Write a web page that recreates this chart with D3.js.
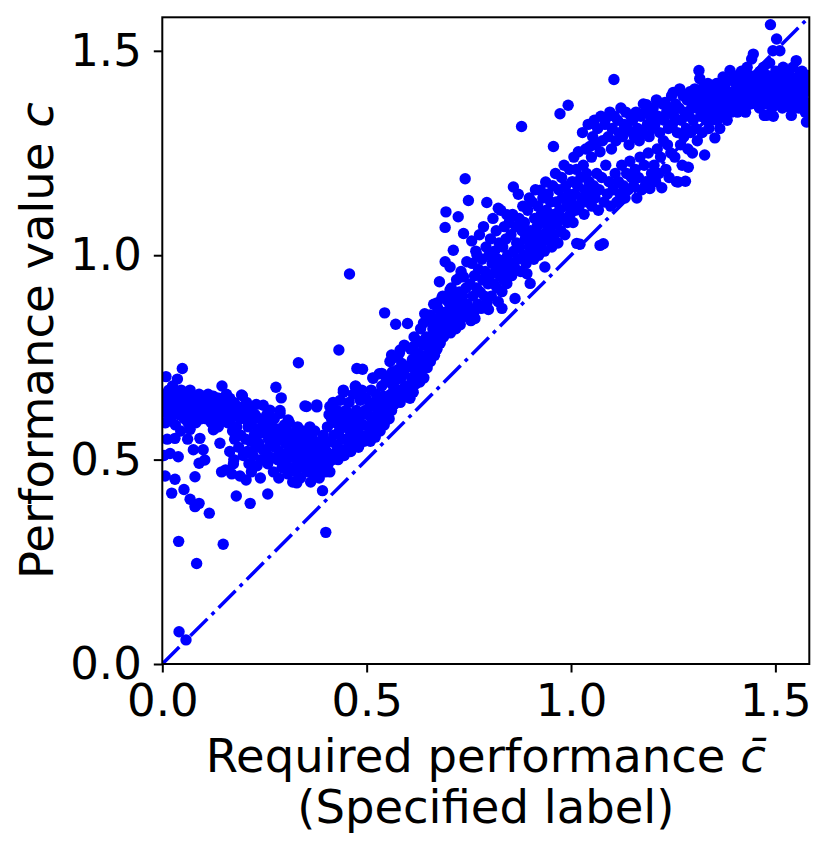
<!DOCTYPE html>
<html>
<head>
<meta charset="utf-8">
<script src="https://cdn.jsdelivr.net/npm/d3@7/dist/d3.min.js"></script>
<style>
  body { margin: 0; background: #fff; }
  text { font-family: "DejaVu Sans", sans-serif; }
</style>
</head>
<body>
<div id="chart"></div>
<script>
// axis limits and ticks
const xMax = 1.583;
const yMax = 1.582;
const xTicks = [0.0, 0.5, 1.0, 1.5];
const yTicks = [0.0, 0.5, 1.0, 1.5];
const xLabelTop = 'Required performance ';
const xLabelBottom = '(Specified label)';
const yLabelText = 'Performance value ';

// points, [required c-bar, performance c]
const flatBand = [
  [0.003,0.62],[0.005,0.66],[0.008,0.59],[0.009,0.703],[0.012,0.64],[0.014,0.61],[0.016,0.67],[0.018,0.63],
  [0.021,0.60],[0.023,0.65],[0.025,0.68],[0.027,0.62],[0.030,0.64],[0.032,0.585],[0.034,0.66],[0.037,0.697],
  [0.039,0.63],[0.041,0.61],[0.044,0.65],[0.046,0.67],[0.049,0.723],[0.048,0.62],
  [0.004,0.51],[0.007,0.46],[0.019,0.515],[0.023,0.418],[0.031,0.452],[0.031,0.552],[0.039,0.507],
  [0.040,0.30],[0.041,0.079],[0.045,0.57],[0.012,0.55],
  [0.052,0.64],[0.054,0.60],[0.056,0.66],[0.058,0.62],[0.061,0.65],[0.063,0.59],[0.065,0.63],[0.068,0.67],
  [0.070,0.61],[0.072,0.64],[0.075,0.60],[0.077,0.655],[0.080,0.625],[0.082,0.59],[0.085,0.645],[0.087,0.61],
  [0.090,0.66],[0.092,0.63],[0.095,0.60],[0.098,0.645],
  [0.053,0.427],[0.058,0.059],[0.068,0.574],[0.068,0.403],[0.076,0.524],[0.080,0.458],[0.080,0.385],
  [0.084,0.246],[0.090,0.393],[0.090,0.491],[0.092,0.552],[0.062,0.55],
  [0.102,0.62],[0.105,0.65],[0.107,0.60],[0.110,0.635],[0.112,0.66],[0.115,0.61],[0.117,0.64],[0.120,0.59],
  [0.122,0.625],[0.125,0.655],[0.127,0.60],[0.130,0.64],[0.133,0.615],[0.136,0.58],[0.138,0.65],[0.141,0.63],
  [0.144,0.60],[0.146,0.68],[0.148,0.62],
  [0.100,0.524],[0.104,0.499],[0.115,0.369],[0.125,0.573],[0.137,0.581],[0.141,0.54],[0.149,0.293],[0.145,0.47],
  [0.152,0.64],[0.154,0.61],[0.157,0.66],[0.160,0.59],[0.162,0.63],[0.165,0.65],[0.167,0.60],[0.170,0.62],
  [0.172,0.57],[0.175,0.64],[0.177,0.55],[0.180,0.61],[0.182,0.58],[0.185,0.63],[0.187,0.53],[0.190,0.60],
  [0.192,0.56],[0.195,0.62],[0.196,0.656],[0.198,0.51],[0.165,0.52],[0.175,0.50],
  [0.155,0.475],[0.170,0.465],[0.181,0.411],[0.190,0.46],[0.174,0.49],[0.194,0.658]
];

const dipBand = [
  [0.202,0.60],[0.204,0.55],[0.206,0.64],[0.208,0.52],[0.210,0.58],[0.212,0.49],[0.214,0.62],[0.216,0.545],
  [0.218,0.47],[0.220,0.595],[0.222,0.51],[0.225,0.56],[0.227,0.61],[0.229,0.53],[0.232,0.485],[0.234,0.575],
  [0.236,0.54],[0.239,0.60],[0.241,0.50],[0.243,0.565],[0.246,0.525],[0.248,0.59],
  [0.215,0.393],[0.205,0.45],[0.240,0.455],[0.230,0.635],[0.247,0.633],[0.223,0.483],
  [0.252,0.57],[0.254,0.52],[0.256,0.61],[0.258,0.49],[0.260,0.55],[0.262,0.59],[0.264,0.535],[0.266,0.505],
  [0.268,0.58],[0.270,0.56],[0.272,0.47],[0.274,0.60],[0.276,0.53],[0.278,0.677],[0.280,0.545],[0.282,0.50],
  [0.284,0.575],[0.286,0.52],[0.288,0.62],[0.291,0.651],[0.293,0.48],[0.295,0.555],[0.297,0.51],[0.299,0.585],
  [0.258,0.416],[0.285,0.455],[0.263,0.621],[0.288,0.613],
  [0.301,0.54],[0.303,0.50],[0.305,0.57],[0.307,0.465],[0.309,0.52],[0.311,0.59],[0.313,0.555],[0.315,0.48],
  [0.317,0.53],[0.319,0.445],[0.321,0.505],[0.323,0.565],[0.325,0.54],[0.327,0.47],[0.329,0.515],[0.331,0.58],
  [0.333,0.737],[0.334,0.49],[0.336,0.55],[0.338,0.455],[0.340,0.525],[0.342,0.50],[0.344,0.57],[0.346,0.48],
  [0.349,0.631],[0.348,0.535],[0.308,0.597],[0.329,0.443],
  [0.351,0.51],[0.353,0.56],[0.355,0.47],[0.357,0.535],[0.359,0.49],[0.361,0.58],[0.363,0.445],[0.365,0.52],
  [0.367,0.55],[0.369,0.475],[0.371,0.505],[0.373,0.57],[0.375,0.46],[0.378,0.629],[0.380,0.53],[0.382,0.495],
  [0.384,0.455],[0.386,0.545],[0.388,0.515],[0.390,0.48],[0.392,0.424],[0.394,0.56],[0.396,0.50],[0.398,0.535],
  [0.400,0.322],[0.399,0.47],[0.353,0.63],[0.378,0.634],
  [0.402,0.52],[0.404,0.58],[0.406,0.49],[0.408,0.61],[0.410,0.47],[0.412,0.545],[0.414,0.60],[0.416,0.50],
  [0.418,0.64],[0.420,0.56],[0.422,0.515],[0.424,0.59],[0.426,0.535],[0.428,0.62],[0.430,0.50],[0.432,0.768],
  [0.433,0.57],[0.435,0.645],[0.437,0.525],[0.439,0.60],[0.441,0.55],[0.443,0.665],[0.445,0.51],[0.447,0.58],
  [0.449,0.62],[0.410,0.63],[0.427,0.617],[0.443,0.67],
  [0.451,0.55],[0.453,0.60],[0.455,0.53],[0.458,0.954],[0.457,0.64],[0.459,0.57],[0.461,0.52],[0.463,0.61],
  [0.465,0.555],[0.467,0.66],[0.469,0.59],[0.471,0.54],[0.473,0.68],[0.475,0.62],[0.476,0.723],[0.478,0.575],
  [0.480,0.53],[0.482,0.60],[0.484,0.645],[0.486,0.56],[0.488,0.67],[0.490,0.721],[0.492,0.585],[0.494,0.545],
  [0.496,0.62],[0.498,0.65],[0.472,0.679],[0.480,0.662]
];

const riseBand = [
  [0.501,0.56],[0.503,0.61],[0.505,0.58],[0.507,0.64],[0.509,0.545],[0.511,0.67],[0.513,0.60],[0.515,0.70],
  [0.517,0.575],[0.519,0.63],[0.521,0.555],[0.523,0.66],[0.525,0.61],[0.527,0.585],[0.529,0.645],[0.531,0.71],
  [0.533,0.57],[0.535,0.625],[0.537,0.68],[0.539,0.60],[0.541,0.655],[0.544,0.859],[0.543,0.585],[0.545,0.635],
  [0.547,0.69],[0.549,0.61],[0.516,0.699],[0.537,0.711],
  [0.551,0.64],[0.553,0.70],[0.555,0.60],[0.557,0.74],[0.559,0.66],[0.561,0.62],[0.563,0.715],[0.565,0.68],
  [0.567,0.635],[0.569,0.75],[0.571,0.831],[0.572,0.695],[0.574,0.65],[0.576,0.72],[0.578,0.67],[0.580,0.76],
  [0.582,0.64],[0.584,0.70],[0.586,0.735],[0.588,0.665],[0.590,0.71],[0.592,0.78],[0.594,0.68],[0.596,0.655],
  [0.598,0.725],[0.600,0.833],[0.561,0.756],[0.582,0.768],
  [0.602,0.68],[0.604,0.73],[0.606,0.65],[0.608,0.77],[0.610,0.70],[0.612,0.745],[0.614,0.665],[0.616,0.80],
  [0.618,0.72],[0.620,0.685],[0.622,0.76],[0.624,0.71],[0.626,0.79],[0.628,0.735],[0.630,0.69],[0.632,0.82],
  [0.634,0.755],[0.636,0.72],[0.638,0.78],[0.640,0.70],[0.642,0.857],[0.644,0.745],[0.646,0.80],[0.648,0.725],
  [0.650,0.841],[0.614,0.776],[0.639,0.834],
  [0.652,0.76],[0.654,0.80],[0.656,0.74],[0.658,0.85],[0.660,0.78],[0.662,0.82],[0.664,0.88],[0.666,0.755],
  [0.668,0.79],[0.670,0.84],[0.672,0.77],[0.674,0.87],[0.676,0.81],[0.678,0.935],[0.680,0.785],[0.682,0.855],
  [0.684,0.83],[0.686,0.90],[0.688,0.80],[0.690,0.86],[0.692,0.984],[0.692,1.068],[0.694,1.106],[0.695,0.82],
  [0.697,0.89],[0.699,0.845],[0.704,0.971],[0.655,0.854],[0.672,0.883],[0.684,0.895],
  [0.701,0.83],[0.703,0.88],[0.705,0.81],[0.707,0.92],[0.709,0.86],[0.711,0.84],[0.712,1.012],[0.714,0.90],
  [0.716,0.87],[0.718,0.82],[0.720,0.94],[0.722,0.885],[0.724,1.094],[0.725,0.855],[0.727,0.91],[0.729,0.83],
  [0.731,0.96],[0.733,0.875],[0.735,0.90],[0.737,1.053],[0.737,0.947],[0.739,0.85],[0.741,1.187],[0.743,0.92],
  [0.745,0.984],[0.746,0.88],[0.748,0.86],[0.749,1.134],[0.704,0.915],[0.729,0.947],
  [0.751,0.87],[0.753,0.93],[0.755,0.84],[0.757,1.035],[0.758,0.98],[0.760,0.90],[0.762,0.86],[0.764,0.95],
  [0.765,0.845],[0.767,1.01],[0.769,0.92],[0.770,1.00],[0.772,0.88],[0.774,0.965],[0.776,1.05],[0.778,0.91],
  [0.780,0.87],[0.782,0.99],[0.784,0.94],[0.786,1.07],[0.788,0.90],[0.790,0.96],[0.792,1.02],[0.794,1.129],
  [0.795,0.885],[0.797,0.93],[0.798,0.867],[0.799,1.00],
  [0.801,0.95],[0.803,1.04],[0.805,0.90],[0.807,0.98],[0.809,1.09],[0.811,0.93],[0.813,1.01],[0.815,0.96],
  [0.817,1.06],[0.819,0.92],[0.821,0.99],[0.822,0.886],[0.824,1.03],[0.826,0.95],[0.828,1.11],[0.830,0.97],
  [0.831,0.87],[0.831,0.911],[0.833,1.02],[0.835,0.94],[0.837,1.07],[0.839,0.99],[0.841,1.04],[0.843,0.931],
  [0.845,1.00],[0.847,0.96],[0.849,1.08],[0.822,1.115],[0.843,1.099],
  [0.851,0.98],[0.853,1.05],[0.855,0.95],[0.857,1.10],[0.859,1.167],[0.860,1.01],[0.862,0.97],[0.863,0.894],
  [0.865,1.07],[0.867,1.03],[0.869,0.99],[0.871,1.149],[0.873,1.09],[0.875,1.02],[0.877,0.96],[0.879,1.315],
  [0.880,1.06],[0.882,1.12],[0.884,1.00],[0.886,1.08],[0.888,1.04],[0.890,0.98],[0.892,0.955],[0.894,1.11],
  [0.896,1.05],[0.898,1.14],[0.900,0.931],[0.899,1.02],
  [0.901,1.06],[0.903,1.00],[0.905,1.13],[0.907,1.04],[0.909,0.99],[0.911,1.09],[0.913,1.16],[0.915,1.02],
  [0.917,1.07],[0.919,1.12],[0.921,1.00],[0.923,1.05],[0.925,1.159],[0.927,1.10],[0.929,1.03],[0.931,1.14],
  [0.933,1.08],[0.935,1.01],[0.936,0.971],[0.938,1.179],[0.940,1.11],[0.942,1.06],[0.944,1.15],[0.946,1.04],
  [0.948,1.09],[0.950,1.13],
  [0.951,1.07],[0.953,1.02],[0.955,1.17],[0.957,1.266],[0.958,1.10],[0.960,1.05],[0.962,1.20],[0.964,1.13],
  [0.966,1.08],[0.968,1.03],[0.970,1.16],[0.972,1.11],[0.973,1.346],[0.975,1.06],[0.977,1.19],[0.979,1.14],
  [0.981,1.09],[0.983,1.22],[0.985,1.05],[0.987,1.17],[0.989,1.12],[0.991,1.08],[0.993,1.367],[0.994,1.15],
  [0.996,1.21],[0.998,1.10]
];

const splitBand = [
  [1.001,1.13],[1.003,1.18],[1.005,1.08],[1.007,1.24],[1.009,1.15],[1.011,1.11],[1.013,1.21],[1.014,1.029],
  [1.016,1.17],[1.018,1.253],[1.020,1.12],[1.022,1.027],[1.024,1.19],[1.026,1.14],[1.028,1.30],[1.030,1.22],
  [1.032,1.10],[1.034,1.16],[1.036,1.26],[1.038,1.20],[1.040,1.13],[1.042,1.32],[1.044,1.18],[1.046,1.266],
  [1.048,1.15],[1.050,1.24],
  [1.051,1.12],[1.053,1.29],[1.055,1.17],[1.057,1.33],[1.059,1.14],[1.061,1.27],[1.063,1.20],[1.065,1.31],
  [1.067,1.11],[1.069,1.16],[1.071,1.253],[1.071,1.024],[1.073,1.34],[1.075,1.19],[1.077,1.28],[1.079,1.028],
  [1.081,1.13],[1.083,1.32],[1.085,1.22],[1.087,1.337],[1.089,1.15],[1.091,1.29],[1.093,1.18],[1.095,1.35],
  [1.097,1.12],[1.099,1.26],
  [1.101,1.31],[1.103,1.16],[1.105,1.43],[1.106,1.34],[1.108,1.20],[1.110,1.28],[1.112,1.13],[1.114,1.33],
  [1.116,1.18],[1.118,1.30],[1.120,1.15],[1.122,1.36],[1.124,1.22],[1.126,1.29],[1.128,1.17],[1.130,1.32],
  [1.132,1.14],[1.134,1.35],[1.136,1.20],[1.138,1.31],[1.140,1.16],[1.142,1.27],[1.144,1.23],[1.146,1.34],
  [1.148,1.19],[1.150,1.30],
  [1.151,1.33],[1.153,1.17],[1.155,1.29],[1.157,1.21],[1.159,1.35],[1.161,1.14],[1.163,1.31],[1.165,1.19],
  [1.167,1.28],[1.169,1.24],[1.171,1.34],[1.173,1.16],[1.175,1.30],[1.177,1.37],[1.179,1.22],[1.181,1.35],
  [1.183,1.18],[1.185,1.368],[1.187,1.32],[1.189,1.25],[1.191,1.29],[1.193,1.163],[1.195,1.34],[1.197,1.20],
  [1.199,1.31],
  [1.201,1.36],[1.203,1.22],[1.205,1.32],[1.207,1.18],[1.209,1.38],[1.211,1.26],[1.213,1.34],[1.215,1.20],
  [1.217,1.30],[1.219,1.24],[1.222,1.165],[1.224,1.37],[1.226,1.28],[1.228,1.33],[1.230,1.374],[1.232,1.21],
  [1.234,1.35],[1.236,1.27],[1.238,1.31],[1.240,1.19],[1.242,1.36],[1.244,1.25],[1.246,1.39],[1.248,1.32],
  [1.250,1.398],
  [1.252,1.34],[1.254,1.24],[1.256,1.37],[1.258,1.18],[1.260,1.30],[1.262,1.179],[1.264,1.36],[1.266,1.407],
  [1.268,1.27],[1.270,1.33],[1.272,1.22],[1.274,1.39],[1.276,1.29],[1.278,1.35],[1.280,1.181],[1.282,1.31],
  [1.284,1.38],[1.286,1.26],[1.287,1.215],[1.289,1.34],[1.291,1.40],[1.293,1.30],[1.295,1.36],[1.297,1.25],
  [1.299,1.33]
];

const topBand = [
  [1.301,1.38],[1.303,1.407],[1.305,1.31],[1.307,1.36],[1.309,1.28],[1.311,1.40],[1.313,1.452],[1.315,1.432],
  [1.317,1.34],[1.319,1.38],[1.321,1.30],[1.323,1.41],[1.325,1.36],[1.327,1.245],[1.329,1.39],[1.331,1.33],
  [1.333,1.37],[1.335,1.42],[1.337,1.31],[1.339,1.35],[1.341,1.40],[1.343,1.38],[1.345,1.33],[1.347,1.36],
  [1.349,1.41],
  [1.351,1.38],[1.352,1.287],[1.354,1.35],[1.356,1.42],[1.358,1.33],[1.360,1.39],[1.362,1.36],[1.364,1.31],
  [1.366,1.41],[1.368,1.37],[1.370,1.34],[1.372,1.436],[1.374,1.39],[1.376,1.35],[1.378,1.42],[1.380,1.38],
  [1.382,1.33],[1.384,1.40],[1.386,1.36],[1.389,1.452],[1.390,1.39],[1.392,1.35],[1.394,1.43],[1.396,1.37],
  [1.398,1.40],
  [1.401,1.36],[1.403,1.42],[1.405,1.39],[1.407,1.35],[1.409,1.44],[1.411,1.38],[1.413,1.41],[1.415,1.36],
  [1.417,1.45],[1.419,1.40],[1.421,1.37],[1.423,1.43],[1.425,1.39],[1.427,1.35],[1.429,1.42],[1.431,1.46],
  [1.433,1.38],[1.435,1.41],[1.437,1.44],[1.439,1.37],[1.442,1.48],[1.444,1.40],[1.446,1.492],[1.447,1.43],
  [1.449,1.38],
  [1.451,1.41],[1.453,1.37],[1.455,1.44],[1.457,1.39],[1.459,1.42],[1.461,1.36],[1.463,1.45],[1.465,1.40],
  [1.467,1.38],[1.469,1.43],[1.471,1.46],[1.473,1.342],[1.475,1.41],[1.477,1.37],[1.478,1.342],[1.480,1.44],
  [1.482,1.39],[1.484,1.42],[1.486,1.47],[1.488,1.564],[1.490,1.40],[1.492,1.36],[1.494,1.50],[1.495,1.34],
  [1.497,1.43],[1.499,1.38],
  [1.501,1.45],[1.503,1.529],[1.505,1.41],[1.507,1.37],[1.509,1.44],[1.511,1.50],[1.513,1.39],[1.515,1.42],
  [1.517,1.36],[1.519,1.46],[1.521,1.40],[1.523,1.38],[1.525,1.43],[1.527,1.45],[1.529,1.37],[1.531,1.41],
  [1.533,1.39],[1.535,1.44],[1.537,1.36],[1.539,1.342],[1.541,1.42],[1.543,1.46],[1.545,1.38],[1.547,1.40],
  [1.549,1.43],
  [1.551,1.476],[1.553,1.39],[1.555,1.42],[1.557,1.36],[1.559,1.44],[1.561,1.40],[1.563,1.37],[1.565,1.45],
  [1.567,1.41],[1.569,1.38],[1.571,1.43],[1.573,1.35],[1.575,1.40],[1.576,1.326],[1.578,1.44],[1.580,1.37],
  [1.582,1.41]
];

const points = [].concat(flatBand, dipBand, riseBand, splitBand, topBand);

const width = 831, height = 852;
const margin = {left: 162.3, top: 17.3};
const plotW = 647, plotH = 646.7;
const dotColor = '#0000ff';
const tickFont = 45;
const labelFont = 46.5;

const svg = d3.select('#chart')
  .append('svg')
  .attr('width', width)
  .attr('height', height);

const xScale = d3.scaleLinear().domain([0, xMax]).range([0, plotW]);
const yScale = d3.scaleLinear().domain([0, yMax]).range([plotH, 0]);

const g = svg.append('g')
  .attr('transform', 'translate(' + margin.left + ',' + margin.top + ')');

g.append('clipPath')
  .attr('id', 'plot_clip')
  .append('rect')
  .attr('width', plotW)
  .attr('height', plotH);

const plot = g.append('g').attr('clip-path', 'url(#plot_clip)');

plot.selectAll('.dot')
  .data(points)
  .enter()
  .append('circle')
  .attr('class', 'dot')
  .attr('r', 5.7)
  .attr('fill', dotColor)
  .attr('cx', function(d){ return xScale(d[0]); })
  .attr('cy', function(d){ return yScale(d[1]); });

// identity line c = c-bar
plot.append('line')
  .attr('x1', xScale(0))
  .attr('y1', yScale(0))
  .attr('x2', xScale(xMax))
  .attr('y2', yScale(xMax))
  .attr('stroke', dotColor)
  .attr('stroke-width', 3.5)
  .attr('stroke-dasharray', '24,6,3.8,6');

// axes
const xAxis = d3.axisBottom(xScale)
  .tickValues(xTicks)
  .tickFormat(d3.format('.1f'))
  .tickSizeInner(8.5)
  .tickSizeOuter(0)
  .tickPadding(12);

const yAxis = d3.axisLeft(yScale)
  .tickValues(yTicks)
  .tickFormat(d3.format('.1f'))
  .tickSizeInner(8.5)
  .tickSizeOuter(0)
  .tickPadding(12);

const gx = g.append('g')
  .attr('transform', 'translate(0,' + plotH + ')')
  .call(xAxis);
const gy = g.append('g').call(yAxis);

[gx, gy].forEach(function(a){
  a.select('.domain').remove();
  a.selectAll('.tick line').attr('stroke', '#000').attr('stroke-width', 2);
  a.selectAll('.tick text')
    .attr('fill', '#000')
    .style('font-size', tickFont + 'px')
    .style('font-family', '"DejaVu Sans", sans-serif');
});

// spines
g.append('rect')
  .attr('width', plotW)
  .attr('height', plotH)
  .attr('fill', 'none')
  .attr('stroke', '#000')
  .attr('stroke-width', 2);

// axis labels
const xl = g.append('text')
  .attr('x', plotW / 2)
  .attr('y', plotH + 107.7)
  .attr('text-anchor', 'middle')
  .style('font-size', labelFont + 'px');
xl.append('tspan').text(xLabelTop);
xl.append('tspan').style('font-style', 'italic').text('c\u0304');

g.append('text')
  .attr('x', plotW / 2)
  .attr('y', plotH + 159.5)
  .attr('text-anchor', 'middle')
  .style('font-size', labelFont + 'px')
  .text(xLabelBottom);

const yl = svg.append('text')
  .attr('transform', 'translate(53,' + (margin.top + plotH / 2) + ') rotate(-90)')
  .attr('text-anchor', 'middle')
  .style('font-size', labelFont + 'px');
yl.append('tspan').text(yLabelText);
yl.append('tspan').style('font-style', 'italic').text('c');
</script>
</body>
</html>
